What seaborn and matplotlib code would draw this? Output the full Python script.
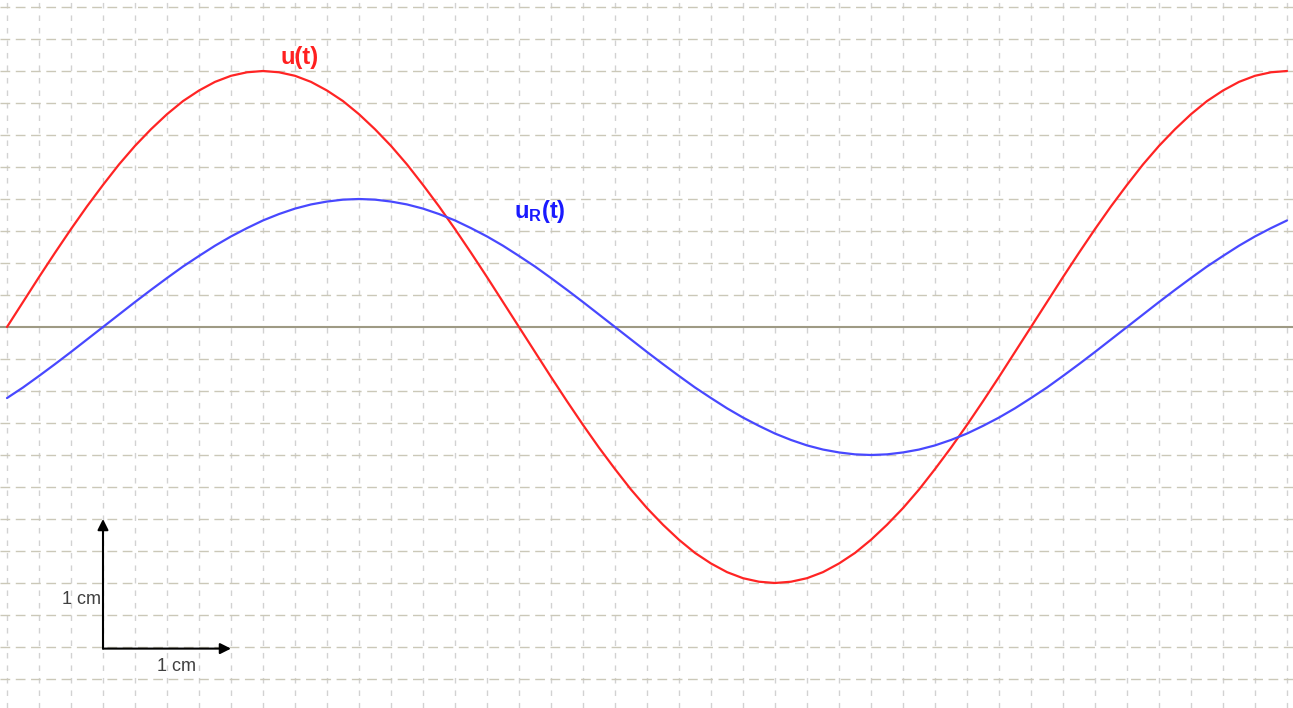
import numpy as np
import pandas as pd
import matplotlib
matplotlib.use("Agg")
import matplotlib.pyplot as plt
import seaborn as sns

# Readings every half division (1 division = 1/4 cm), values in divisions
t_div = [i / 2 for i in range(81)]
u_vals = [0.0, 0.78, 1.56, 2.32, 3.06, 3.77, 4.44, 5.08, 5.66, 6.18, 6.65, 7.06, 7.39, 7.66, 7.85, 7.96, 8.0,
          7.96, 7.85, 7.66, 7.39, 7.06, 6.65, 6.18, 5.66, 5.08, 4.44, 3.77, 3.06, 2.32, 1.56, 0.78, 0.0,
          -0.78, -1.56, -2.32, -3.06, -3.77, -4.44, -5.08, -5.66, -6.18, -6.65, -7.06, -7.39, -7.66, -7.85, -7.96, -8.0,
          -7.96, -7.85, -7.66, -7.39, -7.06, -6.65, -6.18, -5.66, -5.08, -4.44, -3.77, -3.06, -2.32, -1.56, -0.78, 0.0,
          0.78, 1.56, 2.32, 3.06, 3.77, 4.44, 5.08, 5.66, 6.18, 6.65, 7.06, 7.39, 7.66, 7.85, 7.96, 8.0]
ur_vals = [-2.22, -1.89, -1.53, -1.16, -0.78, -0.39, 0.0,
           0.39, 0.78, 1.16, 1.53, 1.89, 2.22, 2.54, 2.83, 3.09, 3.33, 3.53, 3.70, 3.83, 3.92, 3.98, 4.0,
           3.98, 3.92, 3.83, 3.70, 3.53, 3.33, 3.09, 2.83, 2.54, 2.22, 1.89, 1.53, 1.16, 0.78, 0.39, 0.0,
           -0.39, -0.78, -1.16, -1.53, -1.89, -2.22, -2.54, -2.83, -3.09, -3.33, -3.53, -3.70, -3.83, -3.92, -3.98, -4.0,
           -3.98, -3.92, -3.83, -3.70, -3.53, -3.33, -3.09, -2.83, -2.54, -2.22, -1.89, -1.53, -1.16, -0.78, -0.39, 0.0,
           0.39, 0.78, 1.16, 1.53, 1.89, 2.22, 2.54, 2.83, 3.09, 3.33]
labels = ["u(t)", r"$\mathbf{u_R(t)}$"]

df = pd.DataFrame({"t": t_div * 2,
                   "v": u_vals + ur_vals,
                   "curve": ["u"] * len(t_div) + ["uR"] * len(t_div)})

sns.set_style("white")
plt.rcParams["font.family"] = ["Liberation Sans", "DejaVu Sans"]
plt.rcParams["mathtext.fontset"] = "custom"
plt.rcParams["mathtext.rm"] = "Liberation Sans"
plt.rcParams["mathtext.it"] = "Liberation Sans:italic"
plt.rcParams["mathtext.bf"] = "Liberation Sans:bold"

fig = plt.figure(figsize=(12.93, 7.08), dpi=100)
ax = fig.add_axes([0, 0, 1, 1])

# grid
ax.set_xlim(-7 / 32, (1293 - 7) / 32)
ax.set_ylim(-(708 - 327) / 32, 327 / 32)
for x in range(0, 41):
    ax.axvline(x, color="#d2d2d2", lw=1, dashes=(4, 5), zorder=0)
for y in range(-11, 11):
    if y == 0:
        continue
    ax.axhline(y, color="#cbc8b8", lw=1, dashes=(7, 4), zorder=0)
ax.axhline(0, color="#9e9a84", lw=1.5, zorder=1)

sns.lineplot(data=df, x="t", y="v", hue="curve", palette={"u": "#ff2424", "uR": "#4848ff"},
             legend=False, lw=1.6, ax=ax, zorder=3)

ax.text(9.15, 8.05, labels[0], color="#ff2020", fontsize=17, fontweight="bold",
        ha="center", va="bottom")
ax.text(16.65, 3.2, labels[1], color="#1a1aff", fontsize=17, ha="center", va="bottom")

# scale arrows: 1 cm = 4 divisions
ax.annotate("", xy=(3, -6), xytext=(3, -10.05),
            arrowprops=dict(arrowstyle="-|>", color="black", lw=1.5, mutation_scale=16,
                            shrinkA=0, shrinkB=0))
ax.annotate("", xy=(7, -10.05), xytext=(3, -10.05),
            arrowprops=dict(arrowstyle="-|>", color="black", lw=1.5, mutation_scale=16,
                            shrinkA=0, shrinkB=0))
ax.text(2.95, -8.5, "1 cm", color="#404040", fontsize=13, ha="right", va="center")
ax.text(5.3, -10.6, "1 cm", color="#404040", fontsize=13, ha="center", va="center")

ax.set_xticks([])
ax.set_yticks([])
ax.set_xlabel("")
ax.set_ylabel("")
for s in ax.spines.values():
    s.set_visible(False)

fig.savefig("out.png", dpi=100)
